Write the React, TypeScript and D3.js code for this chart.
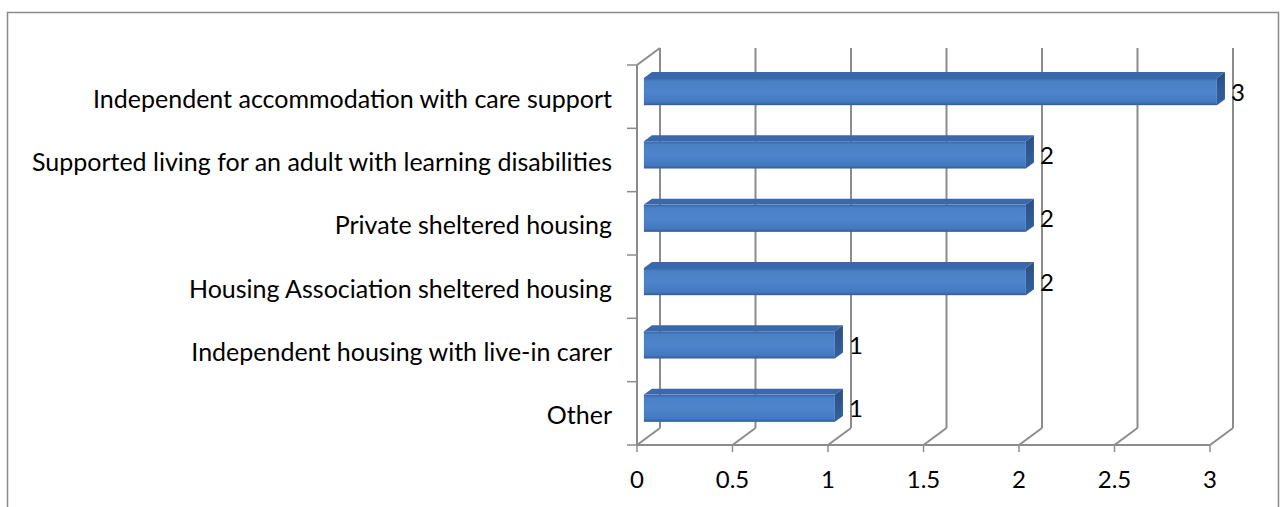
import React, { useEffect, useRef } from 'react';
import * as d3 from 'd3';

// categories top to bottom, as in the reference
const categories = [
  'Independent accommodation with care support',
  'Supported living for an adult with learning disabilities',
  'Private sheltered housing',
  'Housing Association sheltered housing',
  'Independent housing with live-in carer',
  'Other',
];
const counts = [3, 2, 2, 2, 1, 1];
const xTicks = [0, 0.5, 1, 1.5, 2, 2.5, 3];

const App: React.FC = () => {
  const svgRef = useRef<SVGSVGElement>(null);
  const WIDTH = 1283;
  const HEIGHT = 507;

  useEffect(() => {
    if (!svgRef.current) return;
    const svg = d3.select(svgRef.current);
    svg.selectAll('*').remove();

    // plot box (front plane) and the 3D depth offset
    const left = 637, right = 1210, top = 65, bottom = 445;
    const DX = 23, DY = -17;
    const gridColor = '#8c8c8c';
    const font = 'Lato, "Open Sans", sans-serif';

    const x = d3.scaleLinear().domain([0, 3]).range([left, right]);
    const y = d3.scaleBand<string>().domain(categories).range([top, bottom]);

    // --- gradients ---
    const defs = svg.append('defs');
    const front = defs.append('linearGradient').attr('id', 'barFront')
      .attr('x1', 0).attr('y1', 0).attr('x2', 0).attr('y2', 1);
    [['0%', '#3565a8'], ['12%', '#4a80c6'], ['50%', '#4d84cb'], ['88%', '#4479bf'], ['100%', '#2f5c9c']]
      .forEach(([o, c]) => front.append('stop').attr('offset', o).attr('stop-color', c));
    const end = defs.append('linearGradient').attr('id', 'barEnd')
      .attr('x1', 0).attr('y1', 0).attr('x2', 0).attr('y2', 1);
    [['0%', '#2c4f86'], ['100%', '#34609e']]
      .forEach(([o, c]) => end.append('stop').attr('offset', o).attr('stop-color', c));

    // --- chart frame ---
    svg.append('path')
      .attr('d', `M7.5,${HEIGHT} L7.5,12.5 L1278.5,12.5 L1278.5,${HEIGHT}`)
      .attr('fill', 'none').attr('stroke', '#8a8a8a').attr('stroke-width', 1.5);

    const g = svg.append('g');
    const line = (x1: number, y1: number, x2: number, y2: number, w = 2) =>
      g.append('line').attr('x1', x1).attr('y1', y1).attr('x2', x2).attr('y2', y2)
        .attr('stroke', gridColor).attr('stroke-width', w);

    // back wall gridlines + floor diagonals
    xTicks.forEach(t => {
      const fx = x(t);
      line(fx + DX, top + DY, fx + DX, bottom + DY);
      line(fx, bottom, fx + DX, bottom + DY);
      line(fx, bottom, fx, bottom + 7, 1.5);
    });

    // side wall + axes
    line(left, top, left, bottom);
    line(left, top, left + DX, top + DY);
    line(left, bottom, right, bottom);
    const yEdges = categories.map(c => y(c)!).concat([bottom]);
    yEdges.forEach(e => line(left - 10, e, left, e, 1.5));

    // --- 3D bars ---
    const depth0 = 0.3, depth1 = 0.65;
    const barH = y.bandwidth() * 0.43;
    const ox = DX * depth0, oy = DY * depth0;
    const bdx = DX * (depth1 - depth0), bdy = DY * (depth1 - depth0);
    const x0 = x(0) + ox;

    categories.forEach((c, i) => {
      const cy = y(c)! + y.bandwidth() / 2 + oy;
      const x1 = x(counts[i]) + ox;
      const t0 = cy - barH / 2, b0 = cy + barH / 2;
      // top face
      g.append('path')
        .attr('d', `M${x0},${t0} L${x0 + bdx},${t0 + bdy} L${x1 + bdx},${t0 + bdy} L${x1},${t0} Z`)
        .attr('fill', '#3a68aa');
      // end face
      g.append('path')
        .attr('d', `M${x1},${t0} L${x1 + bdx},${t0 + bdy} L${x1 + bdx},${b0 + bdy} L${x1},${b0} Z`)
        .attr('fill', 'url(#barEnd)');
      // front face
      g.append('rect')
        .attr('x', x0).attr('y', t0).attr('width', x1 - x0).attr('height', barH)
        .attr('fill', 'url(#barFront)');

      // value label
      g.append('text')
        .attr('x', x1 + bdx + 6).attr('y', cy + 9)
        .attr('font-family', font).attr('font-size', 24).attr('fill', '#000')
        .text(counts[i]);

      // category label
      g.append('text')
        .attr('x', 612).attr('y', y(c)! + y.bandwidth() / 2 + 11)
        .attr('text-anchor', 'end')
        .attr('font-family', font).attr('font-size', 25).attr('fill', '#000')
        .text(c);
    });

    // x tick labels
    xTicks.forEach(t => {
      g.append('text')
        .attr('x', x(t)).attr('y', 488)
        .attr('text-anchor', 'middle')
        .attr('font-family', font).attr('font-size', 24).attr('fill', '#000')
        .text(String(t));
    });
  }, []);

  return (
    <svg
      ref={svgRef}
      width={WIDTH}
      height={HEIGHT}
      style={{ position: 'absolute', left: 0, top: 0, background: '#fff' }}
    />
  );
};

export default App;
